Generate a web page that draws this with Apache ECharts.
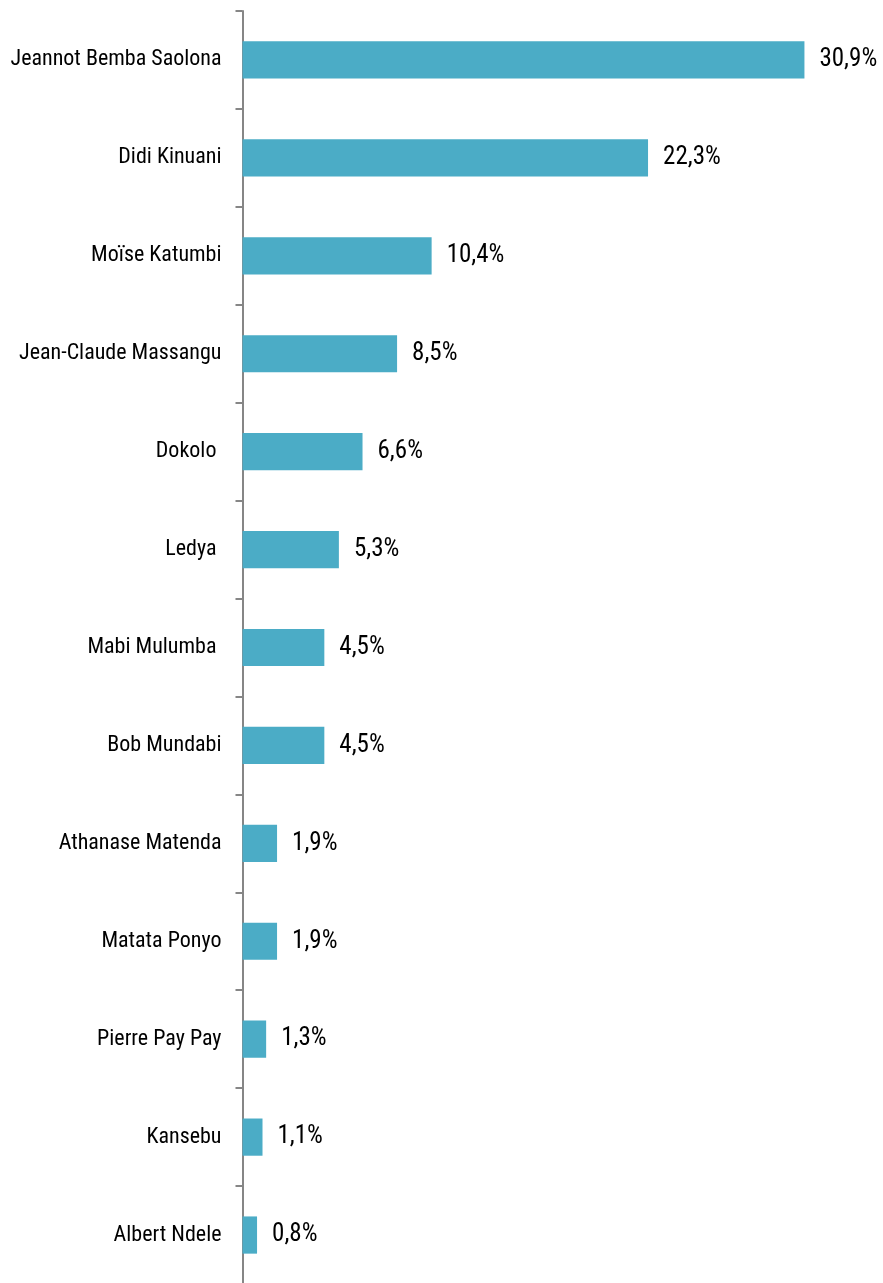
<!DOCTYPE html>
<html>
<head>
<meta charset="utf-8">
<script src="https://cdn.jsdelivr.net/npm/echarts@6/dist/echarts.min.js"></script>
<style>
html,body{margin:0;padding:0;background:#fff;}
#chart{width:883px;height:1283px;}
</style>
</head>
<body>
<div id="chart"></div>
<script>
var categories = [
  "Jeannot Bemba Saolona",
  "Didi Kinuani",
  "Moïse Katumbi",
  "Jean-Claude Massangu",
  "Dokolo ",
  "Ledya ",
  "Mabi Mulumba ",
  "Bob Mundabi",
  "Athanase Matenda",
  "Matata Ponyo",
  "Pierre Pay Pay",
  "Kansebu",
  "Albert Ndele"
];
var values = [30.9, 22.3, 10.4, 8.5, 6.6, 5.3, 4.5, 4.5, 1.9, 1.9, 1.3, 1.1, 0.8];

var chart = echarts.init(document.getElementById('chart'), null, {renderer: 'canvas'});
var font = '"Roboto Condensed", "Liberation Sans", Arial, sans-serif';
chart.setOption({
  animation: false,
  backgroundColor: '#ffffff',
  grid: {left: 242.5, right: 4, top: 11, bottom: -1, containLabel: false, outerBoundsMode: 'none'},
  xAxis: {
    type: 'value', min: 0, max: 35, show: false
  },
  yAxis: {
    type: 'category',
    data: categories,
    inverse: true,
    axisLine: {show: true, lineStyle: {color: '#868686', width: 2}},
    axisTick: {show: true, length: 7, lineStyle: {color: '#868686', width: 2}},
    axisLabel: {
      margin: 21,
      color: '#000000',
      fontFamily: font,
      fontSize: 22
    },
    splitLine: {show: false}
  },
  series: [{
    type: 'bar',
    data: values,
    barWidth: '38%',
    itemStyle: {color: '#4bacc6'},
    label: {
      show: true,
      position: 'right',
      distance: 15,
      color: '#000000',
      fontFamily: font,
      fontSize: 25,
      formatter: function (p) { return p.value.toFixed(1).replace('.', ',') + '%'; }
    }
  }]
});
</script>
</body>
</html>
